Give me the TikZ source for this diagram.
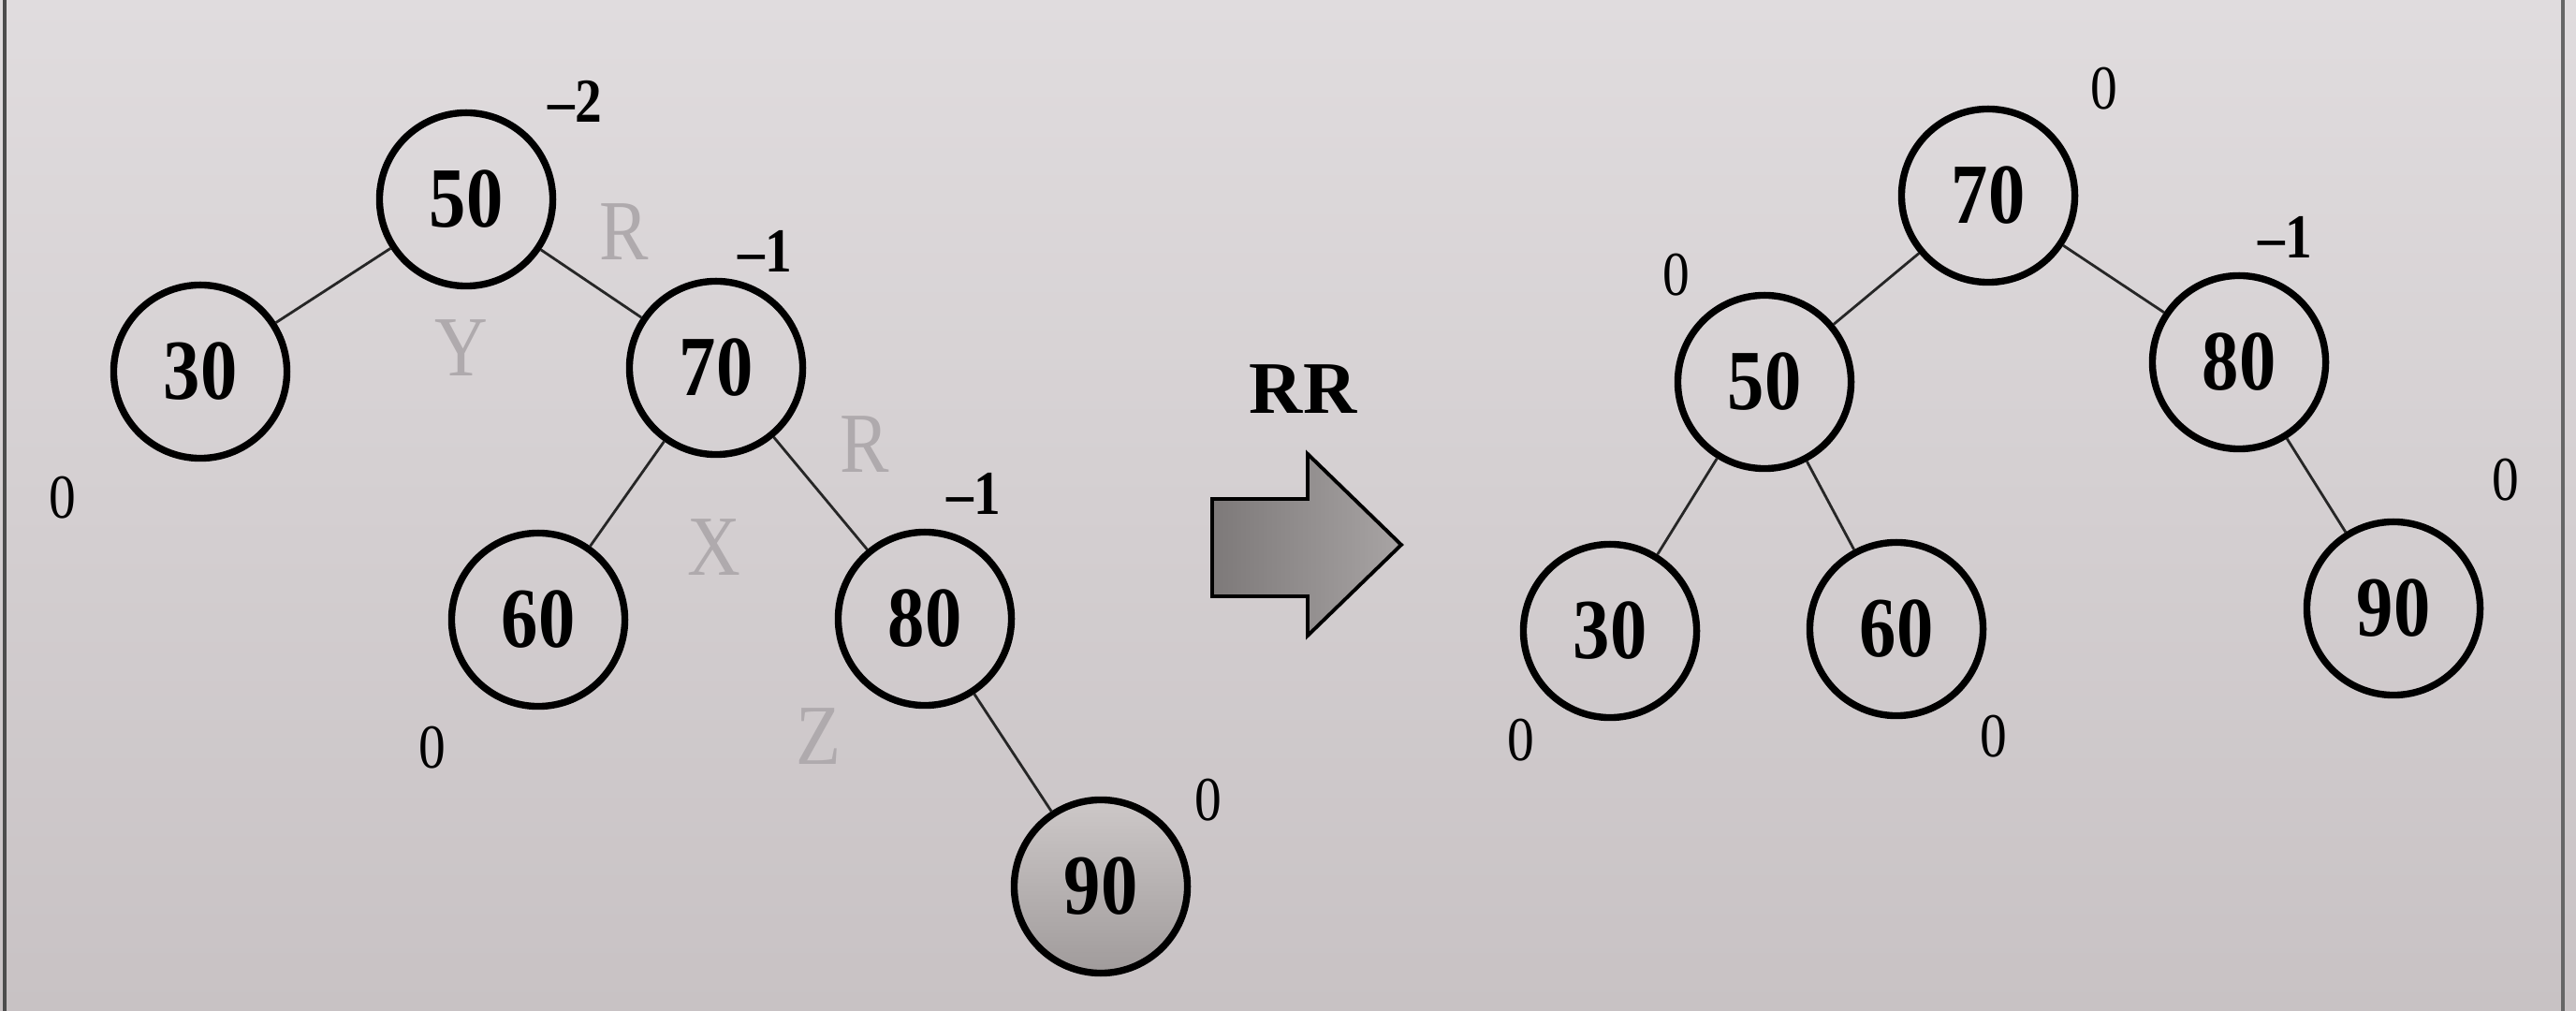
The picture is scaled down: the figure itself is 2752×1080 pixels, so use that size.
\documentclass[tikz,border=0pt]{standalone}
\usepackage{fontspec}
\setmainfont{Liberation Serif}
\newfontfamily\numfont[FakeStretch=0.86]{Liberation Serif}
\definecolor{papertop}{RGB}{224,220,222}
\definecolor{paperbot}{RGB}{200,194,196}
\definecolor{letgray}{RGB}{175,170,173}
\definecolor{ninetytop}{RGB}{205,200,200}
\definecolor{ninetybot}{RGB}{160,155,155}
\definecolor{arrowL}{RGB}{125,121,121}
\definecolor{arrowR}{RGB}{168,164,164}
\begin{document}
\begin{tikzpicture}[x=0.01cm,y=-0.01cm,
  nd/.style={circle,draw=black,line width=2.1pt,minimum size=1.85cm,inner sep=0pt,
    font=\numfont\bfseries\fontsize{26}{26}\selectfont},
  bal/.style={inner sep=0pt,font=\numfont\fontsize{19}{19}\selectfont},
  gl/.style={inner sep=0pt,text=letgray,font=\numfont\fontsize{26}{26}\selectfont},
  edge/.style={line width=0.8pt,draw=black!85}]
% background
\shade[top color=papertop,bottom color=paperbot] (0,0) rectangle (2752,1080);
\useasboundingbox (0,0) rectangle (2752,1080);
\draw[line width=1.2pt,black!70] (5,0) -- (5,1080);
\draw[line width=1.2pt,black!60] (2738,0) -- (2738,1080);

% left tree
\node[nd] (L50) at (498,213) {50};
\node[nd] (L30) at (214,397) {30};
\node[nd] (L70) at (765,393) {70};
\node[nd] (L60) at (575,662) {60};
\node[nd] (L80) at (988,661) {80};
\node[nd,top color=ninetytop,bottom color=ninetybot] (L90) at (1176,947) {90};
\draw[edge] (L50) -- (L30);
\draw[edge] (L50) -- (L70);
\draw[edge] (L70) -- (L60);
\draw[edge] (L70) -- (L80);
\draw[edge] (L80) -- (L90);

\node[bal,font=\numfont\bfseries\fontsize{19}{19}\selectfont] (bL50) at (614,108) {–2};
\node[bal,font=\numfont\bfseries\fontsize{19}{19}\selectfont] (bL70) at (817,268) {–1};
\node[bal] (bL30) at (67,532) {0};
\node[bal,font=\numfont\bfseries\fontsize{19}{19}\selectfont] (bL80) at (1040,527) {–1};
\node[bal] (bL60) at (462,799) {0};
\node[bal] (bL90) at (1291,855) {0};

\node[gl] (gR1) at (667,248) {R};
\node[gl] (gY) at (493,372) {Y};
\node[gl] (gR2) at (924,475) {R};
\node[gl] (gX) at (763,585) {X};
\node[gl] (gZ) at (875,787) {Z};

% rotation arrow
\node[inner sep=0pt,font=\bfseries\fontsize{22.5}{22.5}\selectfont] (rr) at (1392,416) {RR};
\draw[line width=1.1pt,left color=arrowL,right color=arrowR]
  (1295,533) -- (1397,533) -- (1397,485) -- (1497,582) -- (1397,679) -- (1397,637) -- (1295,637) -- cycle;

% right tree
\node[nd] (R70) at (2124,209) {70};
\node[nd] (R50) at (1885,408) {50};
\node[nd] (R80) at (2392,387) {80};
\node[nd] (R30) at (1720,674) {30};
\node[nd] (R60) at (2026,672) {60};
\node[nd] (R90) at (2557,650) {90};
\draw[edge] (R70) -- (R50);
\draw[edge] (R70) -- (R80);
\draw[edge] (R50) -- (R30);
\draw[edge] (R50) -- (R60);
\draw[edge] (R80) -- (R90);

\node[bal] (bR70) at (2248,95) {0};
\node[bal] (bR50) at (1791,294) {0};
\node[bal,font=\numfont\bfseries\fontsize{19}{19}\selectfont] (bR80) at (2441,253) {–1};
\node[bal] (bR90) at (2677,513) {0};
\node[bal] (bR30) at (1625,791) {0};
\node[bal] (bR60) at (2130,787) {0};
\end{tikzpicture}
\end{document}
